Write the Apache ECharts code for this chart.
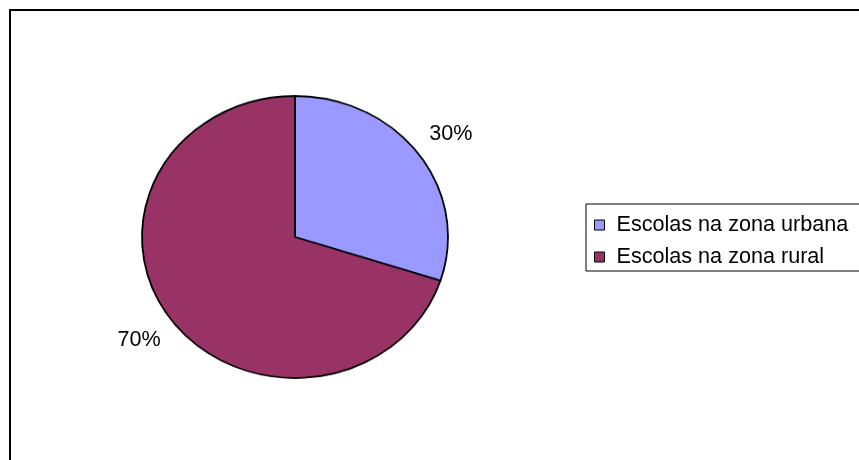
<!DOCTYPE html>
<html>
<head>
<meta charset="utf-8">
<script src="https://cdn.jsdelivr.net/npm/echarts@6/dist/echarts.min.js"></script>
<style>
    html, body {margin:0;padding:0;background:#ffffff;}
    .stage {position:relative;width:859px;height:460px;overflow:hidden;}
    .layer {position:absolute;left:0;top:0;width:859px;height:460px;}
    /* the pie in the reference is a slightly flattened ellipse */
    #pie-fill {transform:scaleY(0.9216);transform-origin:295px 237px;pointer-events:none;}
</style>
</head>
<body>
<div class="stage">
    <div id="pie-base" class="layer"></div>
    <div id="pie-fill" class="layer"></div>
</div>
<script>
    // data
    var categories = ['Escolas na zona urbana', 'Escolas na zona rural'];
    var shares = [30, 70];
    var sliceColors = ['#9999ff', '#993366'];

    var fontName = '"Liberation Sans", Arial, sans-serif';

    var pieData = categories.map(function (name, i) {
        return {name: name, value: shares[i]};
    });

    /**
     * base layer: frame, legend, percentage labels
     */
    var baseChart = echarts.init(document.getElementById('pie-base'), null, {renderer: 'canvas'});
    baseChart.setOption({
        backgroundColor: '#ffffff',
        animation: false,
        graphic: [{
            type: 'rect',
            shape: {x: 10, y: 10, width: 900, height: 500},
            style: {fill: 'none', stroke: '#000000', lineWidth: 2},
            silent: true
        }],
        legend: {
            orient: 'vertical',
            left: 586,
            top: 204,
            padding: [10, 30, 3, 8],
            itemGap: 10,
            itemWidth: 10,
            itemHeight: 10,
            backgroundColor: '#ffffff',
            borderColor: '#000000',
            borderWidth: 1,
            selectedMode: false,
            textStyle: {
                fontFamily: fontName,
                fontSize: 21.6,
                color: '#000000',
                lineHeight: 20,
                padding: [0, 0, 0, 7]
            },
            data: categories.map(function (name, i) {
                return {
                    name: name,
                    icon: 'rect',
                    itemStyle: {color: sliceColors[i], borderColor: '#000000', borderWidth: 1}
                };
            })
        },
        series: [{
            name: 'rotulos',
            type: 'pie',
            center: [295, 237],
            radius: [176, 192],
            startAngle: 87.5,
            silent: true,
            itemStyle: {color: 'transparent', borderWidth: 0},
            label: {
                show: true,
                position: 'inside',
                formatter: '{d}%',
                fontFamily: fontName,
                fontSize: 21.6,
                color: '#000000'
            },
            labelLine: {show: false},
            data: pieData
        }]
    });

    /**
     * top layer: the pie itself
     */
    var fillChart = echarts.init(document.getElementById('pie-fill'), null, {renderer: 'canvas'});
    fillChart.setOption({
        animation: false,
        color: sliceColors,
        series: [{
            name: 'Escolas',
            type: 'pie',
            center: [295, 237],
            radius: 153,
            startAngle: 90,
            clockwise: true,
            silent: true,
            itemStyle: {borderColor: '#000000', borderWidth: 1.8},
            label: {show: false},
            labelLine: {show: false},
            data: pieData
        }]
    });
</script>
</body>
</html>
